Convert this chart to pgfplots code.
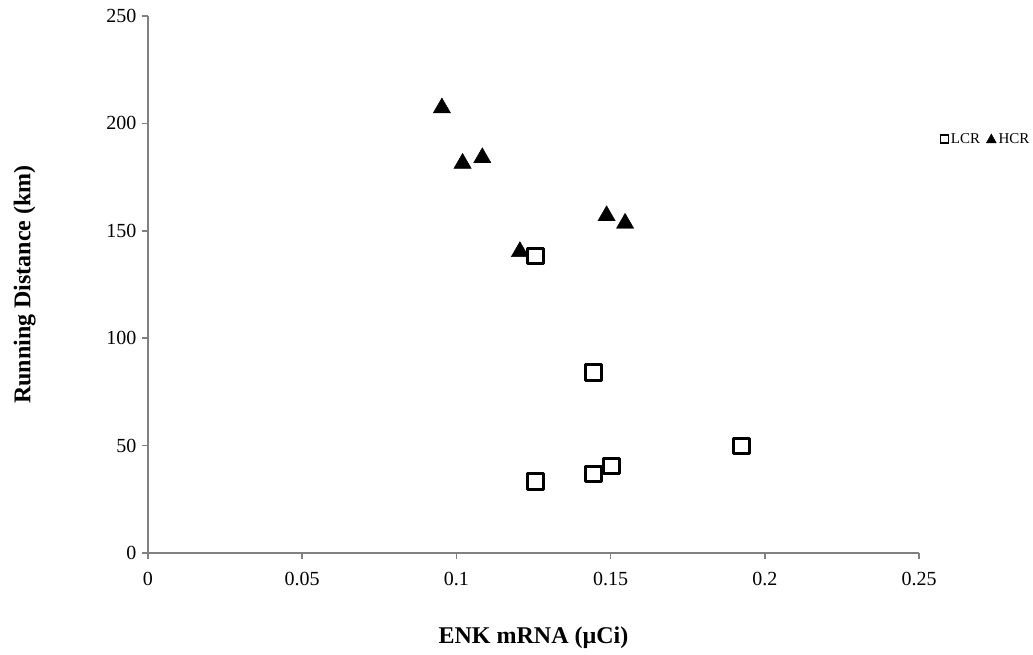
\documentclass[border=0pt]{standalone}
\usepackage{pgfplots}
\pgfplotsset{compat=1.18}
\usepackage{fontspec}
\setmainfont{Liberation Serif}
\begin{document}
\begin{tikzpicture}
\useasboundingbox (-148pt,-101pt) rectangle (885pt,553pt);
\begin{axis}[
  at={(0pt,0pt)}, anchor=south west,
  scale only axis, width=771pt, height=537pt,
  xmin=0, xmax=0.25, ymin=0, ymax=250,
  axis x line=bottom, axis y line=left,
  axis line style={-, draw=gray, line width=1.6pt},
  xtick={0,0.05,0.1,0.15,0.2,0.25},
  xticklabels={0,0.05,0.1,0.15,0.2,0.25},
  ytick={0,50,100,150,200,250},
  tick align=outside, major tick length=6pt,
  tick style={draw=gray, line width=1.6pt},
  ticklabel style={font=\fontsize{20}{20}\selectfont},
  /pgf/number format/assume math mode=true,
  xticklabel style={yshift=-10pt},
  yticklabel style={xshift=-2pt},
  xlabel={\textbf{ENK mRNA (µCi)}},
  ylabel={\textbf{Running Distance (km)}},
  label style={font=\fontsize{24}{24}\selectfont},
  x label style={at={(axis description cs:0.5,-0.158)}, anchor=center},
  y label style={at={(axis description cs:-0.16,0.5)}, anchor=center},
  legend style={at={(1.146,0.771)}, anchor=east, draw=none, fill=none,
    font=\fontsize{15}{15}\selectfont, inner sep=0pt,
    /tikz/every even column/.append style={column sep=4pt}},
  legend columns=2,
  legend cell align=left,
  clip=false,
]
\addplot[only marks, mark=square, mark size=7.8pt,
  mark options={line width=3.2pt, draw=black, fill=white, line join=round},
  legend image code/.code={\draw[line width=1.3pt, fill=white] (-4pt,-4pt) rectangle (4pt,4pt);}]
  coordinates {
  (0.1257,138.3)
  (0.1444,84.1)
  (0.1925,49.8)
  (0.1503,40.5)
  (0.1444,36.8)
  (0.1257,33.2)
};
\addlegendentry{LCR}
\addplot[only marks, mark=triangle*, mark size=10pt,
  mark options={draw=black, fill=black, line width=0.4pt},
  legend image code/.code={\fill[black] (-5pt,-4pt) -- (5pt,-4pt) -- (0pt,5pt) -- cycle;}]
  coordinates {
  (0.0953,207.2)
  (0.1020,181.4)
  (0.1084,184.0)
  (0.1487,157.0)
  (0.1547,153.5)
  (0.1206,140.3)
};
\addlegendentry{HCR}
\end{axis}
\end{tikzpicture}
\end{document}
